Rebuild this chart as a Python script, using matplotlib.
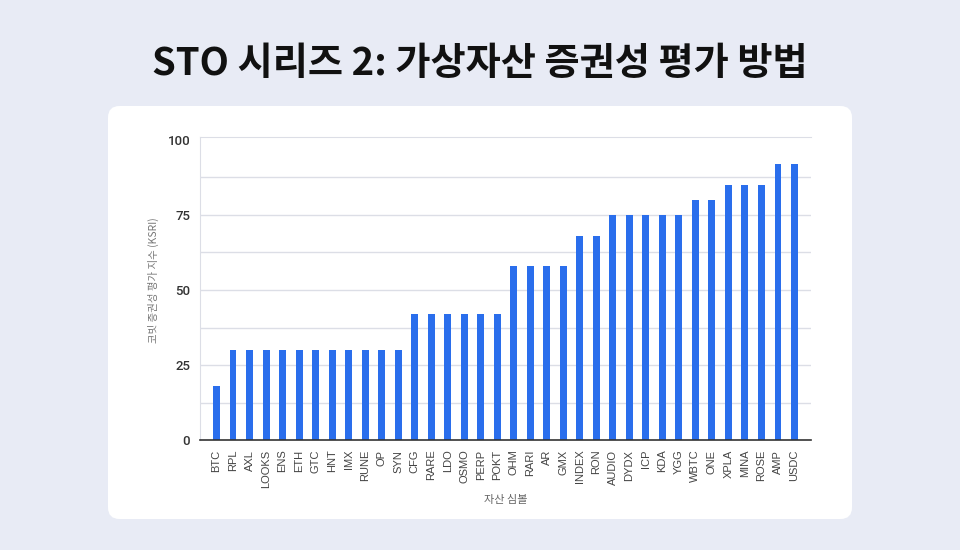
import matplotlib
matplotlib.use("Agg")
import matplotlib.pyplot as plt
from matplotlib.patches import FancyBboxPatch

plt.rcParams['font.family'] = ['Noto Sans CJK KR', 'DejaVu Sans']

title = "STO 시리즈 2: 가상자산 증권성 평가 방법"
x_label = "자산 심볼"
y_label = "코빗 증권성 평가 지수 (KSRI)"

symbols = ["BTC", "RPL", "AXL", "LOOKS", "ENS", "ETH", "GTC", "HNT", "IMX", "RUNE",
           "OP", "SYN", "CFG", "RARE", "LDO", "OSMO", "PERP", "POKT", "OHM", "RARI",
           "AR", "GMX", "INDEX", "RON", "AUDIO", "DYDX", "ICP", "KDA", "YGG", "WBTC",
           "ONE", "XPLA", "MINA", "ROSE", "AMP", "USDC"]
scores = [18, 30, 30, 30, 30, 30, 30, 30, 30, 30,
          30, 30, 42, 42, 42, 42, 42, 42, 58, 58,
          58, 58, 68, 68, 75, 75, 75, 75, 75, 80,
          80, 85, 85, 85, 92, 92]
y_ticks = [0, 25, 50, 75, 100]
grid_vals = [12.5 * i for i in range(1, 8)]

bg = "#E8EBF5"
bar_color = "#2A6EEC"
grid_color = "#DCDEE6"
latin = ['Roboto', 'Noto Sans CJK KR']
arial = ['Liberation Sans', 'Noto Sans CJK KR']

fig = plt.figure(figsize=(9.6, 5.5), dpi=100)
fig.patch.set_facecolor(bg)

panel = FancyBboxPatch((108 / 960, (550 - 519) / 550), (852 - 108) / 960, (519 - 106) / 550,
                       boxstyle="round,pad=0,rounding_size=0.012",
                       transform=fig.transFigure, facecolor="white", edgecolor="none",
                       mutation_aspect=960 / 550, zorder=-5)
fig.patches.append(panel)

fig.text(0.5, (550 - 63) / 550, title, ha="center", va="center",
         fontsize=27.5, fontweight="bold", color="#111111")

ax = fig.add_axes([200 / 960, (550 - 440) / 550, 611 / 960, 303 / 550])
ax.set_zorder(5)
ax.set_facecolor("white")
x = list(range(len(symbols)))
ax.bar(x, scores, width=0.42, color=bar_color, zorder=3)

ax.set_xlim(-1, len(symbols))
ax.set_ylim(0, 101)
for g in grid_vals:
    ax.axhline(g, color=grid_color, linewidth=1, zorder=1)
ax.set_yticks(y_ticks)
ax.set_yticklabels([str(v) for v in y_ticks], fontsize=9.5, color="#333333",
                   fontweight="medium", family=latin)
ax.set_xticks(x)
ax.set_xticklabels(symbols, rotation=90, fontsize=8, color="#444444", family=arial)
ax.tick_params(axis="both", length=0)
ax.tick_params(axis="y", pad=7)
ax.tick_params(axis="x", pad=7)

ax.spines["right"].set_visible(False)
ax.spines["top"].set_color(grid_color)
ax.spines["left"].set_color(grid_color)
ax.spines["bottom"].set_color("#333333")
ax.spines["bottom"].set_linewidth(1.2)
ax.spines["bottom"].set_zorder(4)

ax.set_xlabel(x_label, fontsize=8, color="#666666", labelpad=5)
fig.text(153 / 960, (550 - 280) / 550, y_label, rotation=90, ha="center", va="center",
         fontsize=7.5, color="#777777")

fig.savefig("out.png", dpi=100, facecolor=bg)
